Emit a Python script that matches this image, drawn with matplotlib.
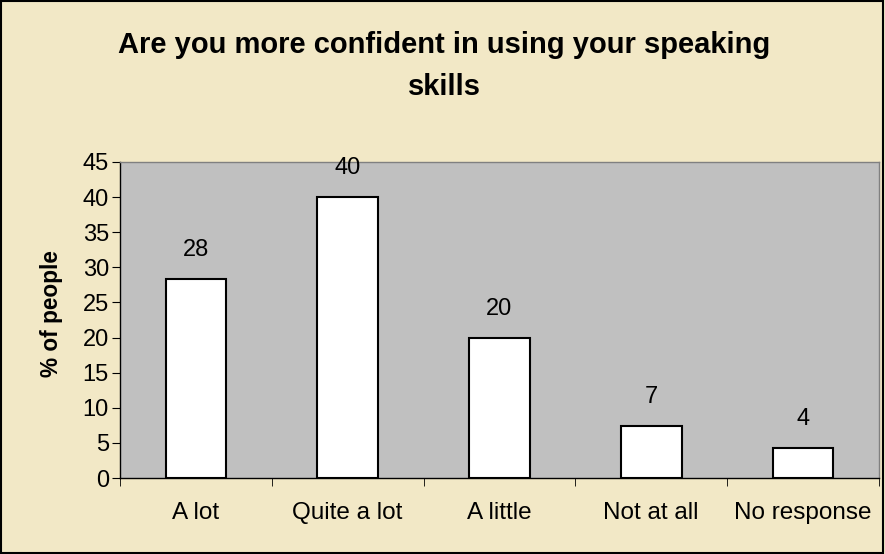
import matplotlib.pyplot as plt
import numpy as np
from matplotlib.patches import Rectangle

categories = ['A lot', 'Quite a lot', 'A little', 'Not at all', 'No response']
values = [28.4, 40, 20, 7.4, 4.3]
yticks = [0, 5, 10, 15, 20, 25, 30, 35, 40, 45]

plt.rcParams['font.family'] = ['Liberation Sans', 'DejaVu Sans']

fig = plt.figure(figsize=(8.85, 5.54), dpi=100)
fig.patch.set_facecolor('#F2E8C6')
ax = fig.add_axes([0.1356, 0.137, 0.993 - 0.1356, 0.7076 - 0.137])
ax.set_facecolor('#C0C0C0')

x = np.arange(len(categories))
bars = ax.bar(x, values, width=0.4, color='white', edgecolor='black', linewidth=1.5)

for xi, v in zip(x, values):
    ax.annotate('%.0f' % v, (xi, v), xytext=(0, 13), textcoords='offset points',
                ha='center', va='bottom', fontsize=17)

ax.set_xlim(-0.5, len(categories) - 0.5)
ax.set_ylim(0, 45)
ax.set_yticks(yticks)
ax.tick_params(axis='y', labelsize=17, length=6, direction='out', pad=2)

# category labels centred, tick marks on category boundaries
ax.set_xticks(x)
ax.set_xticklabels(categories)
ax.tick_params(axis='x', which='major', length=0, labelsize=17.5, pad=17)
ax.set_xticks(np.arange(len(categories) + 1) - 0.5, minor=True)
ax.tick_params(axis='x', which='minor', length=6, direction='out')

ax.set_ylabel('% of people', fontsize=16.3, fontweight='bold')
ax.yaxis.set_label_coords(-0.075, 0.522)

for s in ['left', 'bottom']:
    ax.spines[s].set_color('black')
    ax.spines[s].set_linewidth(1)
for s in ['top', 'right']:
    ax.spines[s].set_color('#808080')
    ax.spines[s].set_linewidth(1)

fig.text(0.502, 0.881, 'Are you more confident in using your speaking\nskills',
         ha='center', va='center', fontsize=21, fontweight='bold', linespacing=1.6)

fig.patches.append(Rectangle((0.001, 0.002), 0.997, 0.996, transform=fig.transFigure,
                             fill=False, edgecolor='black', linewidth=1.5))

fig.savefig('out.png', dpi=100, facecolor=fig.get_facecolor())
